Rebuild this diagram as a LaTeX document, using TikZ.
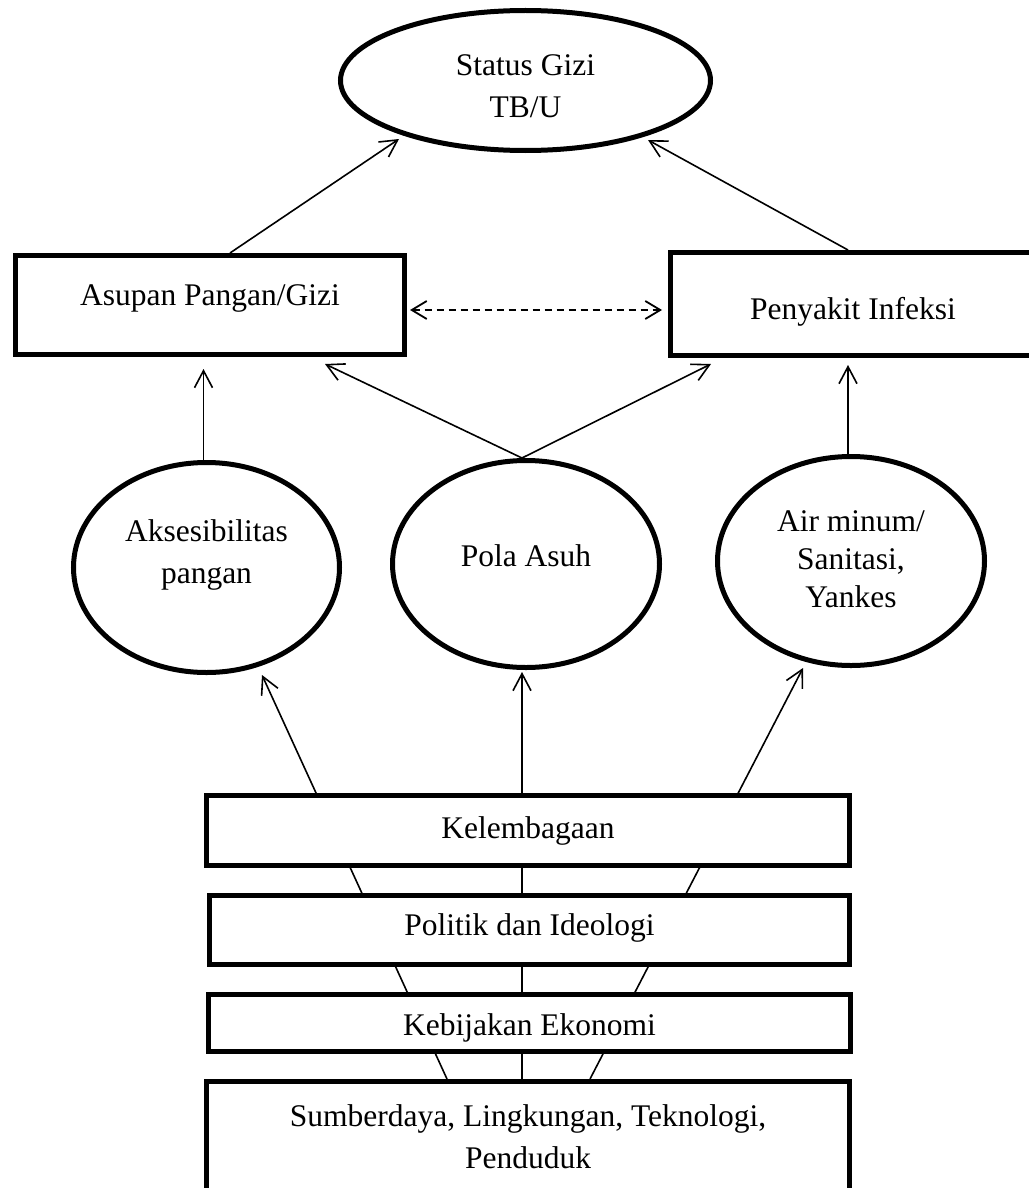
\documentclass[tikz,border=0pt]{standalone}
\usepackage{fontspec}
\setmainfont{Liberation Serif}
\usetikzlibrary{arrows.meta,shapes.geometric,backgrounds,calc}
\begin{document}
\begin{tikzpicture}[x=1pt,y=-1pt,
  font=\fontsize{31.5}{42}\selectfont,
  box/.style={draw,line width=5pt,fill=white,rectangle,inner sep=0pt},
  oval/.style={draw,line width=5pt,fill=white,ellipse,inner sep=0pt},
  txt/.style={align=center,inner sep=0pt},
  conn/.style={line width=1.6pt,-{Straight Barb[length=17pt,width=18pt]}},
  dconn/.style={line width=1.8pt,dash pattern=on 7pt off 5pt,
    {Straight Barb[length=15pt,width=18pt]}-{Straight Barb[length=15pt,width=18pt]}}]
\useasboundingbox (0,0) rectangle (1028,1188);

% top ellipse
\node[oval,minimum width=370pt,minimum height=140pt,
  label={[txt,name=statustxt,yshift=-5.5pt]center:{Status Gizi\\TB/U}}] (status) at (525.5,80.5) {};

% boxes row 2
\node[box,minimum width=389pt,minimum height=99pt,
  label={[txt,name=asupantxt,yshift=7pt]center:{Asupan Pangan/Gizi}}] (asupan) at (210,305) {};
\node[box,minimum width=365pt,minimum height=103pt,
  label={[txt,name=penyakittxt,yshift=-8pt]center:{Penyakit Infeksi}}] (penyakit) at (853,304) {};

% ellipses row 3
\node[oval,minimum width=266pt,minimum height=210pt,
  label={[txt,name=e1txt,yshift=12.5pt]center:{Aksesibilitas\\pangan}}] (e1) at (206.5,567.5) {};
\node[oval,minimum width=267pt,minimum height=207pt,
  label={[txt,name=e2txt,yshift=8pt]center:{Pola Asuh}}] (e2) at (526,564) {};
\node[oval,minimum width=267pt,minimum height=209pt,
  label={[txt,name=e3txt,yshift=2pt,font=\fontsize{31.5}{38}\selectfont]center:{Air minum/\\Sanitasi,\\Yankes}}] (e3) at (851,561) {};

% stacked boxes
\node[box,minimum width=643pt,minimum height=70pt,
  label={[txt,name=keltxt]center:{Kelembagaan}}] (kel) at (528,830.5) {};
\node[box,minimum width=640pt,minimum height=69pt,
  label={[txt,name=poltxt,yshift=2pt]center:{Politik dan Ideologi}}] (pol) at (529.5,930) {};
\node[box,minimum width=642pt,minimum height=57pt,
  label={[txt,name=kebtxt,yshift=-5pt]center:{Kebijakan Ekonomi}}] (keb) at (529.5,1023) {};
\node[box,minimum width=643pt,minimum height=148pt,
  label={[txt,name=sumtxt,yshift=18.5pt]center:{Sumberdaya, Lingkungan, Teknologi,\\Penduduk}}] (sum) at (528,1155.5) {};

% arrow end points
\coordinate (tipSL) at (399,139);
\coordinate (tipSR) at (648,140);
\coordinate (tipPA) at (325,364);
\coordinate (tipPP) at (711,364);
\coordinate (tipK1) at (262,675);
\coordinate (tipK3) at (803,668);

% arrows to status
\draw[conn] ($(asupan.north)+(20,0)$) -- (tipSL);
\draw[conn] ($(penyakit.north)+(-5,0)$) -- (tipSR);

% dashed double arrow
\draw[dconn] ($(asupan.east)+(3,5)$) -- ($(penyakit.west |- asupan.east)+(-6,5)$);

% ellipses to boxes
\draw[conn,shorten >=12pt] ($(e1.north)+(-3,0)$) -- ($(e1.north |- asupan.south)+(-3,0)$);
\draw[conn] ($(e2.north)+(-4,0)$) -- (tipPA);
\draw[conn] ($(e2.north)+(-4,0)$) -- (tipPP);
\draw[conn,shorten >=7pt] ($(e3.north)+(-3,0)$) -- ($(e3.north |- penyakit.south)+(-3,0)$);

% lines from bottom box (behind the stacked boxes)
\begin{pgfonlayer}{background}
\draw[conn] ($(sum.north)+(-81,0)$) -- (tipK1);
\draw[conn] ($(sum.north)+(-6,0)$) -- ($(e2.south)+(-4,2)$);
\draw[conn] ($(sum.north)+(62,0)$) -- (tipK3);
\end{pgfonlayer}
\end{tikzpicture}
\end{document}
